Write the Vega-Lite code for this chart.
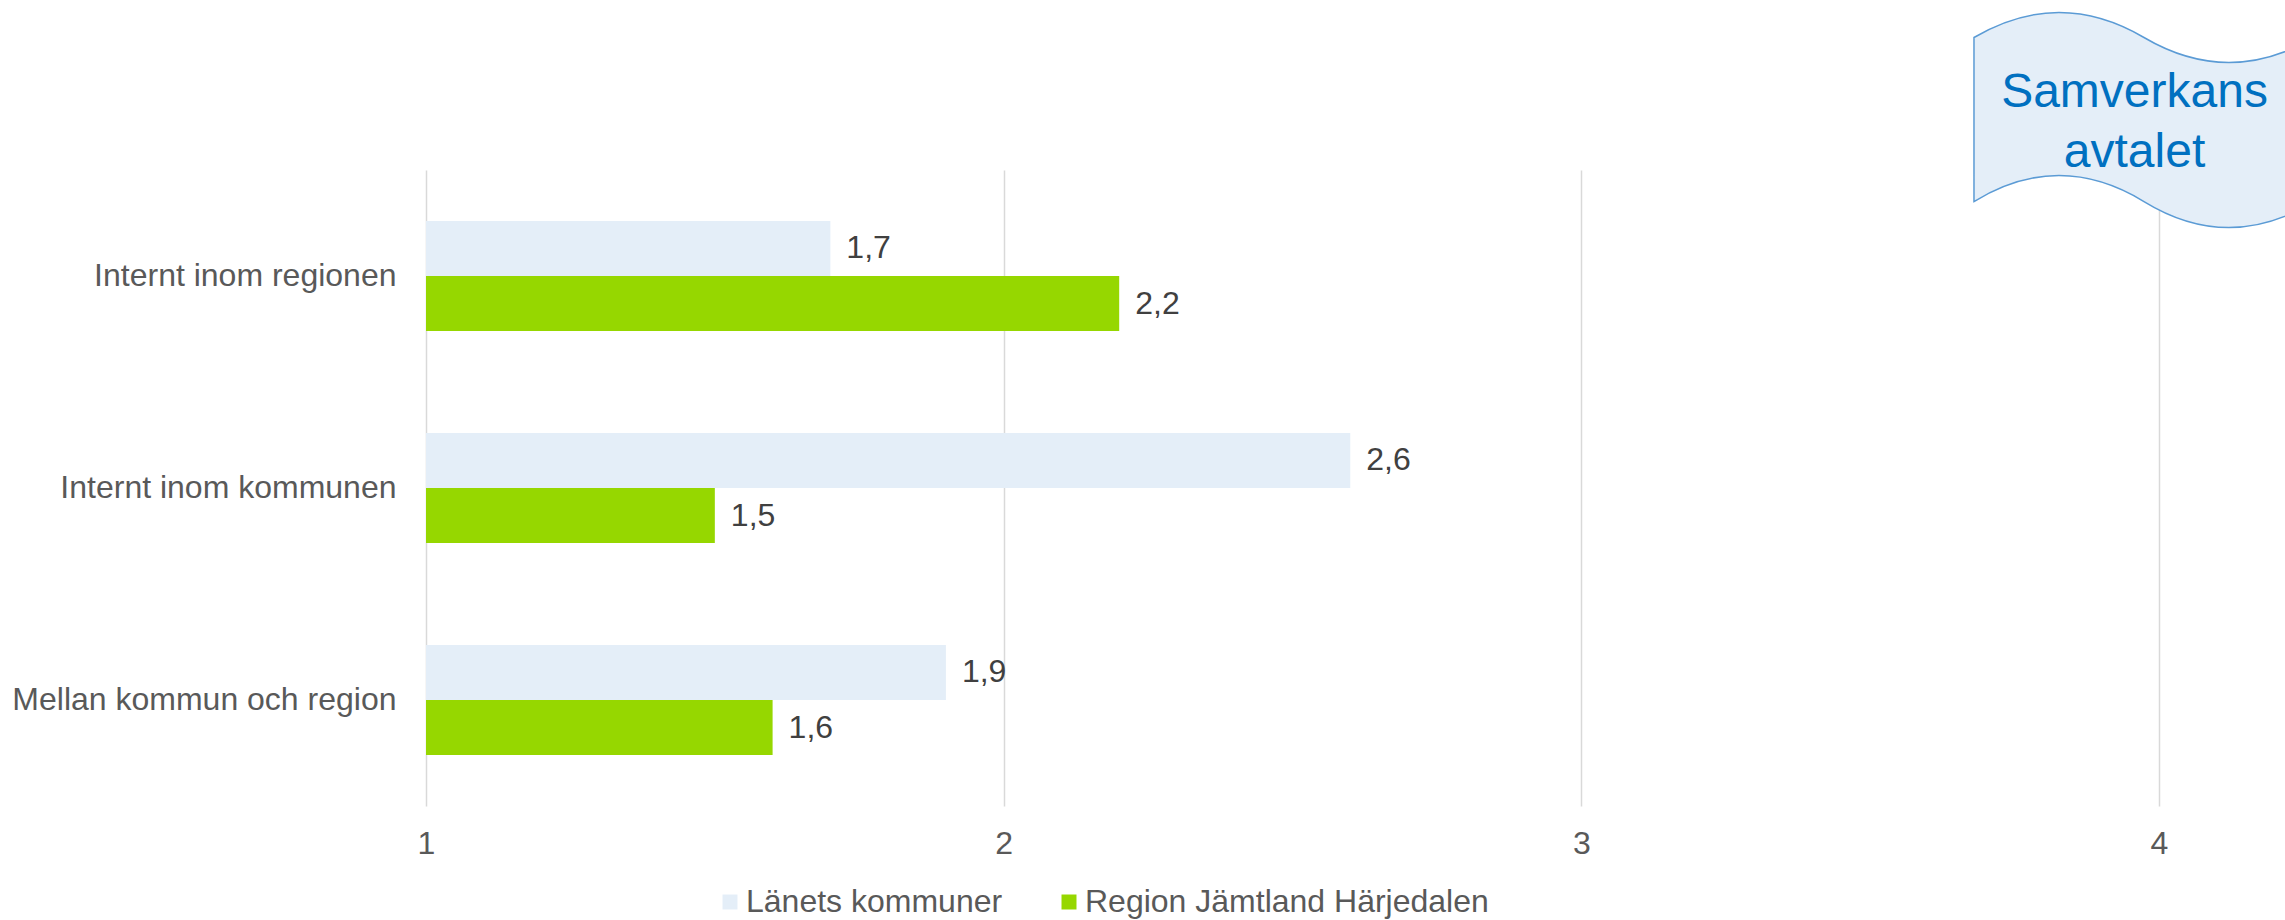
{
  "$schema": "https://vega.github.io/schema/vega-lite/v6.json",
  "width": 1733,
  "height": 636,
  "autosize": {"type": "none"},
  "padding": {"left": 426, "top": 170, "right": 126, "bottom": 114},
  "background": "white",
  "datasets": {
    "bars": [
      {"cat": "Internt inom regionen", "series": "Länets kommuner", "value": 1.7},
      {"cat": "Internt inom regionen", "series": "Region Jämtland Härjedalen", "value": 2.2},
      {"cat": "Internt inom kommunen", "series": "Länets kommuner", "value": 2.6},
      {"cat": "Internt inom kommunen", "series": "Region Jämtland Härjedalen", "value": 1.5},
      {"cat": "Mellan kommun och region", "series": "Länets kommuner", "value": 1.9},
      {"cat": "Mellan kommun och region", "series": "Region Jämtland Härjedalen", "value": 1.6}
    ],
    "flag": [
      {"fx": 3.974, "fy": 1.0778}
    ],
    "flagtext": [
      {"tx": 3.9576, "ty": 1.0983, "label": "Samverkans"},
      {"tx": 3.9576, "ty": 1.0055, "label": "avtalet"}
    ]
  },
  "layer": [
    {
      "data": {"name": "bars"},
      "layer": [
        {
          "mark": {"type": "bar"},
          "encoding": {
            "x": {"field": "value", "type": "quantitative"},
            "x2": {"datum": 1},
            "color": {
              "field": "series",
              "type": "nominal",
              "scale": {"domain": ["Länets kommuner", "Region Jämtland Härjedalen"], "range": ["#E4EEF8", "#96D700"]},
              "legend": {
                "orient": "none",
                "legendX": 288,
                "legendY": 716,
                "direction": "horizontal",
                "title": null,
                "symbolType": "square",
                "symbolSize": 225,
                "symbolStrokeWidth": 0,
                "labelFontSize": 32,
                "labelFont": "Liberation Sans",
                "labelColor": "#595959",
                "labelOffset": 0,
                "columnPadding": 50,
                "padding": 0,
                "labelLimit": 1000
              }
            }
          }
        },
        {
          "mark": {"type": "text", "align": "left", "baseline": "middle", "dx": 16, "fontSize": 32, "font": "Liberation Sans", "color": "#404040"},
          "encoding": {
            "x": {"field": "value", "type": "quantitative"},
            "text": {"field": "value", "type": "quantitative", "format": ".1f"}
          }
        }
      ],
      "encoding": {
        "y": {
          "field": "cat",
          "type": "nominal",
          "sort": ["Internt inom regionen", "Internt inom kommunen", "Mellan kommun och region"],
          "scale": {"paddingInner": 0.48, "paddingOuter": 0.24},
          "axis": {"title": null, "domain": false, "ticks": false, "labelPadding": 30, "labelFontSize": 32, "labelFont": "Liberation Sans", "labelColor": "#595959", "labelLimit": 1000}
        },
        "yOffset": {
          "field": "series",
          "type": "nominal",
          "scale": {"domain": ["Länets kommuner", "Region Jämtland Härjedalen"]}
        }
      }
    },
    {
      "data": {"name": "flag"},
      "mark": {
        "type": "point",
        "filled": true,
        "size": 40000,
        "shape": "M -1.7 -0.83 C -1.133 -1.163 -0.567 -1.163 0 -0.83 C 0.567 -0.497 1.133 -0.497 1.7 -0.83 L 1.7 0.81 C 1.133 1.157 0.567 1.157 0 0.81 C -0.567 0.463 -1.133 0.463 -1.7 0.81 Z",
        "fill": "#E4EEF8",
        "stroke": "#5B9BD5",
        "strokeWidth": 1.5,
        "opacity": 1,
        "fillOpacity": 1,
        "strokeOpacity": 1
      },
      "encoding": {
        "x": {"field": "fx", "type": "quantitative"},
        "y": {"field": "fy", "type": "quantitative", "scale": {"domain": [0, 1], "nice": false, "zero": false}, "axis": null}
      }
    },
    {
      "data": {"name": "flagtext"},
      "mark": {"type": "text", "align": "center", "baseline": "alphabetic", "fontSize": 48, "font": "Liberation Sans", "color": "#0070C0"},
      "encoding": {
        "x": {"field": "tx", "type": "quantitative"},
        "y": {"field": "ty", "type": "quantitative", "scale": {"domain": [0, 1], "nice": false, "zero": false}, "axis": null},
        "text": {"field": "label", "type": "nominal"}
      }
    }
  ],
  "encoding": {
    "x": {
      "type": "quantitative",
      "scale": {"domain": [1, 4], "nice": false, "zero": false},
      "axis": {"title": null, "values": [1, 2, 3, 4], "grid": true, "gridColor": "#D9D9D9", "gridWidth": 1.5, "domain": false, "ticks": false, "labelFlush": false, "labelPadding": 22, "labelFontSize": 32, "labelFont": "Liberation Sans", "labelColor": "#595959", "format": "d"}
    }
  },
  "resolve": {"scale": {"y": "independent"}, "axis": {"y": "independent"}},
  "config": {
    "view": {"stroke": null},
    "locale": {"number": {"decimal": ",", "thousands": " ", "grouping": [3], "currency": ["", " kr"]}}
  }
}
